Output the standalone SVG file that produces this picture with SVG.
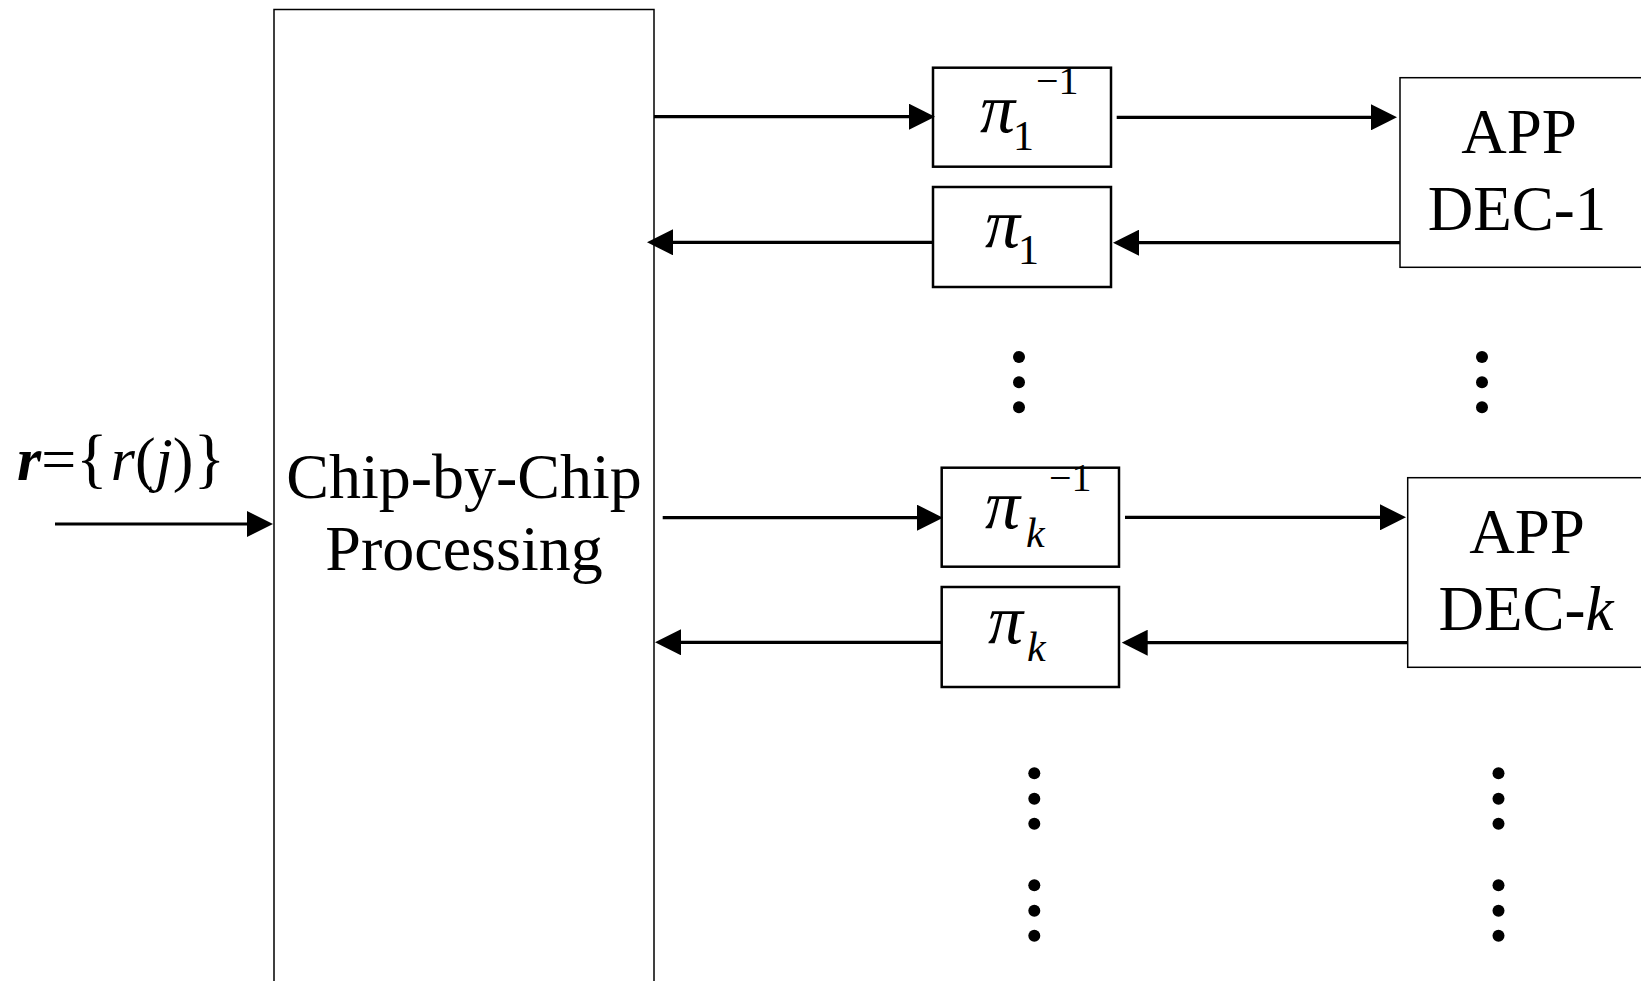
<svg xmlns="http://www.w3.org/2000/svg" width="1641" height="981" viewBox="0 0 1641 981">
<style>
.thin{fill:#fff;stroke:#000;stroke-width:1.5}
.perm{fill:#fff;stroke:#000;stroke-width:2.5}
.lbl{font-family:"Liberation Serif","Times New Roman",serif;fill:#000}
.pi{font-family:"Liberation Serif","Times New Roman",serif;font-style:italic;font-size:70px;fill:#000}
.sub{font-family:"Liberation Serif","Times New Roman",serif;font-size:42px;fill:#000}
.subi{font-family:"Liberation Serif","Times New Roman",serif;font-style:italic;font-size:42px;fill:#000}
.sup{font-family:"Liberation Serif","Times New Roman",serif;font-size:40px;fill:#000}
.conn line{stroke:#000;stroke-width:3.2;fill:none}
.dot{fill:#000}
</style>
<defs>
<marker id="ah" markerUnits="userSpaceOnUse" markerWidth="26" markerHeight="26" viewBox="0 0 26 26" refX="16" refY="13" orient="auto">
<path d="M0,0 L26,13 L0,26 z" fill="#000"/>
</marker>
</defs>
<rect width="1641" height="981" fill="#fff"/>

<g id="input-label">
<text class="lbl" x="17" y="480" font-size="62px"><tspan font-weight="bold" font-style="italic">r</tspan><tspan>=</tspan><tspan font-size="66px">{</tspan><tspan font-style="italic" dx="3">r</tspan><tspan>(</tspan><tspan font-style="italic">j</tspan><tspan>)</tspan><tspan font-size="66px">}</tspan></text>
</g>

<g id="chip-proc">
<rect class="thin" x="274" y="9.5" width="380" height="1000"/>
<text class="lbl" x="464" y="498" font-size="64px" text-anchor="middle">Chip-by-Chip</text>
<text class="lbl" x="464" y="570" font-size="64px" text-anchor="middle">Processing</text>
</g>

<g id="pi1-inv">
<rect class="perm" x="933" y="67.7" width="178" height="99"/>
<text class="pi" x="980" y="132">π</text>
<text class="sub" x="1013" y="150">1</text>
<text class="sup" x="1036" y="94">−1</text>
</g>

<g id="pi1">
<rect class="perm" x="933" y="187" width="178" height="100"/>
<text class="pi" x="985" y="247">π</text>
<text class="sub" x="1018" y="264">1</text>
</g>

<g id="app-dec-1">
<rect class="thin" x="1400" y="77.7" width="300" height="189.6"/>
<text class="lbl" x="1519" y="153" font-size="63px" text-anchor="middle">APP</text>
<text class="lbl" x="1517" y="230" font-size="63px" text-anchor="middle">DEC-1</text>
</g>

<g id="pik-inv">
<rect class="perm" x="941.7" y="467.7" width="177.3" height="99"/>
<text class="pi" x="985" y="528">π</text>
<text class="subi" x="1026" y="547">k</text>
<text class="sup" x="1049" y="491">−1</text>
</g>

<g id="pik">
<rect class="perm" x="941.7" y="587" width="177.3" height="100"/>
<text class="pi" x="988" y="643">π</text>
<text class="subi" x="1027" y="661">k</text>
</g>

<g id="app-dec-k">
<rect class="thin" x="1407.7" y="477.7" width="300" height="189.6"/>
<text class="lbl" x="1527" y="553" font-size="63px" text-anchor="middle">APP</text>
<text class="lbl" x="1526" y="630" font-size="63px" text-anchor="middle">DEC-<tspan font-style="italic">k</tspan></text>
</g>

<g id="ellipsis">
<circle class="dot" cx="1019" cy="357" r="6"/>
<circle class="dot" cx="1019" cy="382.3" r="6"/>
<circle class="dot" cx="1019" cy="407.3" r="6"/>
<circle class="dot" cx="1482" cy="357" r="6"/>
<circle class="dot" cx="1482" cy="382.3" r="6"/>
<circle class="dot" cx="1482" cy="407.3" r="6"/>
<circle class="dot" cx="1034.3" cy="773.3" r="6"/>
<circle class="dot" cx="1034.3" cy="798.7" r="6"/>
<circle class="dot" cx="1034.3" cy="823.7" r="6"/>
<circle class="dot" cx="1034.3" cy="885.3" r="6"/>
<circle class="dot" cx="1034.3" cy="910.7" r="6"/>
<circle class="dot" cx="1034.3" cy="935.7" r="6"/>
<circle class="dot" cx="1498.5" cy="773.3" r="6"/>
<circle class="dot" cx="1498.5" cy="798.7" r="6"/>
<circle class="dot" cx="1498.5" cy="823.7" r="6"/>
<circle class="dot" cx="1498.5" cy="885.3" r="6"/>
<circle class="dot" cx="1498.5" cy="910.7" r="6"/>
<circle class="dot" cx="1498.5" cy="935.7" r="6"/>
</g>

<g id="connectors" class="conn">
<line x1="55" y1="524" x2="263" y2="524" marker-end="url(#ah)"/>
<line x1="654" y1="116.7" x2="925" y2="116.7" marker-end="url(#ah)"/>
<line x1="1116.7" y1="117.3" x2="1387" y2="117.3" marker-end="url(#ah)"/>
<line x1="1400" y1="242.7" x2="1123" y2="242.7" marker-end="url(#ah)"/>
<line x1="933" y1="242.3" x2="657" y2="242.3" marker-end="url(#ah)"/>
<line x1="662.7" y1="517.7" x2="933" y2="517.7" marker-end="url(#ah)"/>
<line x1="1125" y1="517.3" x2="1396" y2="517.3" marker-end="url(#ah)"/>
<line x1="1407.7" y1="642.7" x2="1131.7" y2="642.7" marker-end="url(#ah)"/>
<line x1="941.7" y1="642.3" x2="665" y2="642.3" marker-end="url(#ah)"/>
</g>
</svg>
